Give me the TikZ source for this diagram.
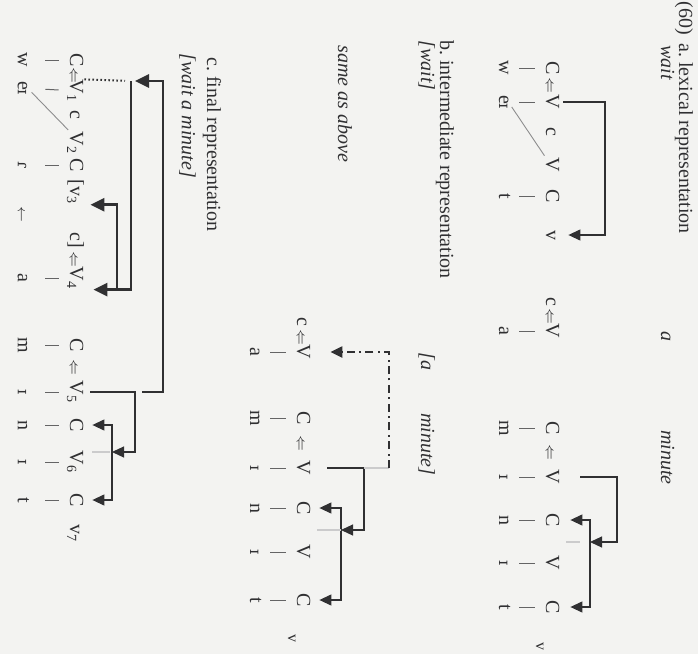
\documentclass[tikz,border=0pt]{standalone}
\usepackage{fontspec}
\setmainfont{Liberation Serif}
\newfontfamily\ipafont{DejaVu Serif}[Scale=0.8]
\usetikzlibrary{arrows.meta}
\definecolor{ink}{RGB}{48,48,50}
\definecolor{paper}{RGB}{243,243,241}
\newcommand{\dlarr}{{\scriptsize$\Leftarrow$}}
\newcommand{\ipa}[1]{{\ipafont #1}}

\begin{document}
\begin{tikzpicture}[
  x=0.5pt, y=0.5pt,
  font=\fontsize{10}{12}\selectfont,
  every node/.append style={rotate=-90, text=ink},
  cv/.style={inner sep=0pt, text height=7pt, text depth=0pt, anchor=base},
  seg/.style={inner sep=0pt, text height=4.5pt, text depth=0pt, anchor=base},
  lowv/.style={cv, font=\footnotesize},
  title/.style={inner sep=0pt, anchor=base west},
  gloss/.style={title, font=\fontsize{10}{12}\selectfont\itshape},
  assoc/.style={draw=ink!75, line width=0.5pt, shorten <=5.5pt, shorten >=5.5pt},
  lowassoc/.style={assoc, shorten >=9pt},
  diag/.style={draw=ink!55, line width=0.45pt, shorten <=3pt, shorten >=1pt},
  spread/.style={draw=ink, line width=0.6pt, -{Triangle[length=6pt, width=5.5pt]}},
  forkline/.style={draw=ink, line width=0.6pt, {Triangle[length=6pt, width=5.5pt]}-{Triangle[length=6pt, width=5.5pt]}},
  heavy/.style={draw=ink, line width=1.3pt, -{Triangle[length=7pt, width=6.5pt]}},
  ghost/.style={draw=ink!25, line width=0.6pt},
  dashdot/.style={spread, line width=1.1pt, dash pattern=on 4pt off 2.2pt on 1pt off 2.2pt},
  dotline/.style={draw=ink, line width=1pt, dash pattern=on 0.8pt off 1.2pt}
]
\useasboundingbox (0,0) rectangle (698,-654);
\fill[paper] (0,0) rectangle (698,-654);

% a. lexical representation
\node[title] (num) at (679,-1) {(60)};
\node[title] (atitle) at (679,-43) {a.~lexical representation};
\node[gloss] (await) at (661,-45) {wait};
\node[gloss] (aglossA) at (661,-331) {a};
\node[gloss] (aglossM) at (661,-430) {minute};

\node[cv] (aC1) at (546,-68) {C};
\node[cv] (aL1) at (546,-85) {\dlarr};
\node[cv] (aV1) at (546,-102) {V};
\node[cv] (ac1) at (546,-132) {c};
\node[cv] (aV2) at (546,-165) {V};
\node[cv] (aC2) at (546,-196) {C};
\node[cv] (av1) at (546,-235) {v};
\node[cv] (ac2) at (546,-302) {c};
\node[cv] (aL2) at (546,-316) {\dlarr};
\node[cv] (aV3) at (546,-331) {V};
\node[cv] (aC3) at (546,-428) {C};
\node[cv] (aL3) at (546,-452) {\dlarr};
\node[cv] (aV4) at (546,-477) {V};
\node[cv] (aC4) at (546,-520) {C};
\node[cv] (aV5) at (546,-563) {V};
\node[cv] (aC5) at (546,-607) {C};
\node[lowv] (av2) at (536,-646) {v};

\node[seg] (aw) at (499,-68) {w};
\node[seg] (aei) at (499,-102) {e\ipa{ɪ}};
\node[seg] (at1) at (499,-196) {t};
\node[seg] (aa) at (499,-331) {a};
\node[seg] (am) at (499,-428) {m};
\node[seg] (ai1) at (499,-477) {\ipa{ɪ}};
\node[seg] (an) at (499,-520) {n};
\node[seg] (ai2) at (499,-563) {\ipa{ɪ}};
\node[seg] (at2) at (499,-607) {t};

\draw[assoc] (aC1) -- (aw);
\draw[assoc] (aV1) -- (aei);
\draw[assoc] (aC2) -- (at1);
\draw[assoc] (aV3) -- (aa);
\draw[assoc] (aC3) -- (am);
\draw[assoc] (aV4) -- (ai1);
\draw[assoc] (aC4) -- (an);
\draw[assoc] (aV5) -- (ai2);
\draw[assoc] (aC5) -- (at2);
\draw[diag] (aei.north) -- (aV2.south west);

\coordinate (aTopW) at (605,-102);
\coordinate (aTopM) at (617,-477);
\coordinate (aFork) at (590,-542);
\coordinate (aSlot) at (566,-542);
\draw[spread, shorten <=1.5pt, shorten >=4pt] (aV1.north) -- (aTopW) |- (av1.north);
\draw[spread, shorten <=10pt] (aV4.north) -- (aTopM) |- (aFork);
\draw[forkline, shorten <=5pt, shorten >=5pt] (aC4.north) -| (aFork) |- (aC5.north);
\draw[ghost, shorten >=5pt] (aSlot) -- (aFork);

% b. intermediate representation
\node[title] (btitle) at (440,-40) {b.~intermediate representation};
\node[gloss] (bwait) at (421,-40) {[wait]};
\node[gloss] (bglossA) at (421,-352) {[a};
\node[gloss] (bglossM) at (421,-413) {minute]};
\node[gloss] (bsame) at (338,-45) {same as above};

\node[cv] (bc1) at (297,-322) {c};
\node[cv] (bL1) at (297,-337) {\dlarr};
\node[cv] (bV1) at (297,-352) {V};
\node[cv] (bC1) at (297,-418) {C};
\node[cv] (bL2) at (297,-443) {\dlarr};
\node[cv] (bV2) at (297,-468) {V};
\node[cv] (bC2) at (297,-508) {C};
\node[cv] (bV3) at (297,-552) {V};
\node[cv] (bC3) at (297,-600) {C};
\node[lowv] (bv1) at (288,-638) {v};

\node[seg] (ba) at (250,-352) {a};
\node[seg] (bm) at (250,-418) {m};
\node[seg] (bi1) at (250,-468) {\ipa{ɪ}};
\node[seg] (bn) at (250,-508) {n};
\node[seg] (bi2) at (250,-552) {\ipa{ɪ}};
\node[seg] (bt) at (250,-600) {t};

\draw[assoc] (bV1) -- (ba);
\draw[assoc] (bC1) -- (bm);
\draw[assoc] (bV2) -- (bi1);
\draw[assoc] (bC2) -- (bn);
\draw[assoc] (bV3) -- (bi2);
\draw[assoc] (bC3) -- (bt);

\coordinate (bCorner) at (364,-468);
\coordinate (bJoin) at (389,-468);
\coordinate (bFork) at (341,-530);
\coordinate (bSlot) at (317,-530);
\draw[spread, shorten <=8pt] (bV2.north) -- (bCorner) |- (bFork);
\draw[ghost] (bCorner) -- (bJoin);
\draw[dashdot, shorten >=9.5pt] (bJoin) |- (bV1.north);
\draw[forkline, shorten <=4pt, shorten >=4pt] (bC2.north) -| (bFork) |- (bC3.north);
\draw[ghost] (bSlot) -- (bFork);

% c. final representation
\node[title] (ctitle) at (207,-57) {c.~final representation};
\node[gloss] (cgloss) at (182,-53) {[wait a minute]};

\node[cv] (cC1) at (70,-60) {C};
\node[cv] (cL1) at (70,-75) {\dlarr};
\node[cv] (cV1) at (70,-91) {V\textsubscript{1}};
\node[cv] (cc1) at (70,-115) {c};
\node[cv] (cV2) at (70,-143) {V\textsubscript{2}};
\node[cv] (cC2) at (70,-165) {C};
\node[cv] (cv3) at (70,-192) {[v\textsubscript{3}};
\node[cv] (cc2) at (70,-240) {c]};
\node[cv] (cL2) at (70,-259) {\dlarr};
\node[cv] (cV4) at (70,-278) {V\textsubscript{4}};
\node[cv] (cC3) at (70,-345) {C};
\node[cv] (cL3) at (70,-367) {\dlarr};
\node[cv] (cV5) at (70,-392) {V\textsubscript{5}};
\node[cv] (cC4) at (70,-425) {C};
\node[cv] (cV6) at (70,-462) {V\textsubscript{6}};
\node[cv] (cC5) at (70,-500) {C};
\node[cv] (cv7) at (70,-533) {v\textsubscript{7}};

\node[seg] (cw) at (18,-60) {w};
\node[seg] (cei) at (18,-88) {e\ipa{ɪ}};
\node[seg] (cr) at (18,-165) {\ipa{ɾ}};
\node[seg] (carr) at (18,-214) {\scriptsize$\leftarrow$};
\node[seg] (ca) at (18,-278) {a};
\node[seg] (cm) at (18,-345) {m};
\node[seg] (ci1) at (18,-392) {\ipa{ɪ}};
\node[seg] (cn) at (18,-425) {n};
\node[seg] (ci2) at (18,-462) {\ipa{ɪ}};
\node[seg] (ct) at (18,-500) {t};

\draw[lowassoc] (cC1) -- (cw);
\draw[lowassoc] (cV1) -- (cei);
\draw[lowassoc] (cC2) -- (cr);
\draw[lowassoc] (cV4) -- (ca);
\draw[lowassoc] (cC3) -- (cm);
\draw[lowassoc] (cV5) -- (ci1);
\draw[lowassoc] (cC4) -- (cn);
\draw[lowassoc] (cV6) -- (ci2);
\draw[lowassoc] (cC5) -- (ct);
\draw[diag] (cei.north) -- (cV2.south west);

\coordinate (cJ) at (131,-81);
\coordinate (cBrX) at (117,0);
\coordinate (cHigh) at (163,-230);
\coordinate (cTail) at (142,-392);
\coordinate (cCorner) at (135,-392);
\coordinate (cFork) at (112,-452);
\coordinate (cSlot) at (92,-452);
\draw[dotline, shorten >=3pt] (cV1.north west) -- (cJ);
\draw[heavy, shorten >=4.5pt] (cJ) |- (cV4.north east);
\draw[heavy, shorten >=3pt] (cBrX |- cV4.north east) |- (cv3.north east);
\draw[heavy, shorten >=2pt] (cTail) -| (cHigh) |- (cJ);
\draw[spread, shorten <=3pt] (cV5.north) -- (cCorner) |- (cFork);
\draw[forkline, shorten <=4pt, shorten >=4pt] (cC4.north) -| (cFork) |- (cC5.north);
\draw[ghost, shorten >=1pt] (cSlot) -- (cFork);
\end{tikzpicture}
\end{document}
